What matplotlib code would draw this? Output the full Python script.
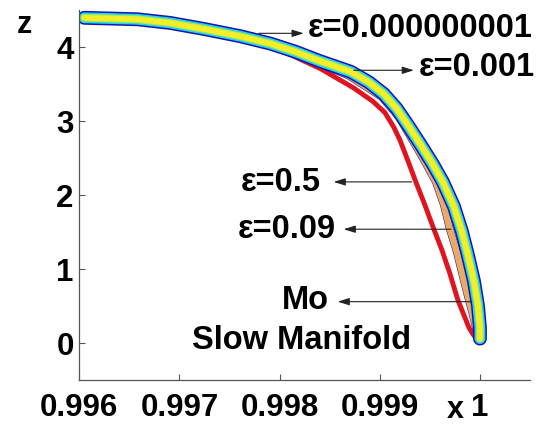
import matplotlib
matplotlib.use("Agg")
import matplotlib.pyplot as plt

plt.rcParams['font.family'] = ['Liberation Sans', 'DejaVu Sans']
plt.rcParams['font.weight'] = 'bold'

# small eps curves, drawn as one band
x_band = [0.99605, 0.99658, 0.99691, 0.99724, 0.99761, 0.99791, 0.99816, 0.99839,
          0.99871, 0.99889, 0.99904, 0.99917, 0.99929, 0.99941, 0.99953, 0.99963,
          0.99974, 0.99982, 0.99988, 0.99994, 0.99998, 1.0, 1.0]
z_band = [4.40, 4.38, 4.33, 4.25, 4.15, 4.05, 3.94, 3.82, 3.67, 3.53, 3.37, 3.17,
          2.93, 2.68, 2.42, 2.18, 1.85, 1.51, 1.19, 0.84, 0.51, 0.21, 0.06]

# eps = 0.09 / Mo (inner side of the band)
x_09 = [0.99821, 0.99838, 0.99869, 0.99902, 0.99919, 0.99932, 0.99944, 0.99956,
        0.99964, 0.99970, 0.99977, 0.99983, 0.99989, 0.99993, 0.99996, 1.0]
z_09 = [3.89, 3.79, 3.62, 3.33, 3.06, 2.76, 2.48, 2.18, 1.87, 1.54, 1.23, 0.90,
        0.58, 0.38, 0.21, 0.04]

# eps = 0.5
x_05 = [0.99771, 0.99811, 0.99841, 0.99874, 0.99893, 0.99905, 0.99914, 0.99920,
        0.99928, 0.99936, 0.99945, 0.99954, 0.99962, 0.99970, 0.99978, 0.99984,
        0.99989, 0.99993, 0.99997, 1.0]
z_05 = [4.11, 3.90, 3.71, 3.45, 3.27, 3.12, 2.92, 2.75, 2.47, 2.18, 1.87, 1.54,
        1.26, 0.94, 0.58, 0.38, 0.21, 0.12, 0.05, 0.02]

labels = ['ε=0.000000001', 'ε=0.001', 'ε=0.5', 'ε=0.09', 'Mo']
tails = [(0.99779, 4.19), (0.99874, 3.69), (0.99932, 2.18), (0.99971, 1.54), (0.99992, 0.56)]
heads = [(0.99824, 4.19), (0.99934, 3.69), (0.99854, 2.18), (0.99864, 1.54), (0.99858, 0.56)]
text_pos = [(0.99828, 4.25), (0.99939, 3.73), (0.99841, 2.17), (0.99856, 1.53), (0.99849, 0.58)]

fig = plt.figure(figsize=(5.45, 4.28), dpi=100)
ax = fig.add_axes([0.1455, 0.1121, 0.827, 0.8636])

ax.plot(x_05, z_05, color='#e0141e', lw=3.5, solid_capstyle='round')
ax.plot(x_09, z_09, color='#3c1c8c', lw=5.6, solid_capstyle='round')
ax.plot(x_09, z_09, color='#e8aa64', lw=4.8, solid_capstyle='round')
ax.plot(x_band, z_band, color='#1414b4', lw=10.0, solid_capstyle='round')
ax.plot(x_band, z_band, color='#1ed2f0', lw=7.8, solid_capstyle='round')
ax.plot(x_band, z_band, color='#a8e858', lw=5.6, solid_capstyle='round')
ax.plot(x_band, z_band, color='#f2ee28', lw=4.0, solid_capstyle='round')

for lab, t, h, p in zip(labels, tails, heads, text_pos):
    ax.annotate('', xy=h, xytext=t,
                arrowprops=dict(arrowstyle='-|>,head_length=0.7,head_width=0.22',
                                color='#222222', lw=0.8, shrinkA=0, shrinkB=0))
    ha = 'left' if h[0] > t[0] else 'right'
    ax.text(p[0], p[1], lab, ha=ha, va='center', fontsize=23.5, fontweight='bold')

ax.text(0.99822, 0.04, 'Slow Manifold', ha='center', va='center', fontsize=23.5,
        fontweight='bold')

ax.set_xlim(0.996, 1.0005)
ax.set_ylim(-0.5, 4.5)
ax.set_xticks([0.996, 0.997, 0.998, 0.999, 1.0])
ax.set_xticklabels(['0.996', '0.997', '0.998', '0.999', '1'])
ax.set_yticks([0, 1, 2, 3, 4])
ax.tick_params(direction='in', length=4, width=0.8, color='#555555', labelsize=22.5)
ax.tick_params(axis='x', pad=9)
ax.tick_params(axis='y', pad=4)
for lbl in ax.get_xticklabels() + ax.get_yticklabels():
    lbl.set_fontweight('bold')
ax.spines['top'].set_visible(False)
ax.spines['right'].set_visible(False)
for s in ['left', 'bottom']:
    ax.spines[s].set_color('#555555')
    ax.spines[s].set_linewidth(0.9)

fig.text(455 / 545, 3 / 428, 'x', ha='center', va='bottom', fontsize=22,
         fontweight='bold')
fig.text(24.5 / 545, 1 - 33 / 428, 'z', ha='center', va='baseline', fontsize=22,
         fontweight='bold')

fig.savefig('out.png', dpi=100)
